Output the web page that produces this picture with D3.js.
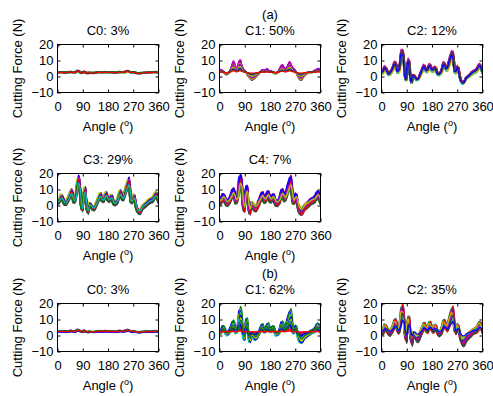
<!DOCTYPE html>
<html>
<head>
<meta charset="utf-8">
<script src="https://cdn.jsdelivr.net/npm/d3@7"></script>
<style>
  body { margin: 0; background: #fff; }
  svg { display: block; font-family: "Liberation Sans", Arial, Helvetica, sans-serif; }
</style>
</head>
<body>
<svg id="chart" width="493" height="396"></svg>
<script>
// sample angles (deg), one value every 5 degrees
const angles = d3.range(0, 361, 5);
const xTicks = [0, 90, 180, 270, 360];
const yTicks = [-10, 0, 10, 20];
const groupLabels = ['(a)', '(b)'];
const titles = ['C0: 3%', 'C1: 50%', 'C2: 12%', 'C3: 29%', 'C4: 7%', 'C0: 3%', 'C1: 62%', 'C2: 35%'];

// typical force profile
const baseForce = [
  2.3, 3.5, 5.2, 4.5, 2.5, 1.3, 2.2, 3.5, 5.5, 7.5, 7.2, 3.0,
  3.5, 8.5, 14.0, 13.5, 3.0, -2.0, 6.0, 9.5, 1.0, -3.5, 0.5, 0.0,
  -1.0, -2.0, -1.5, 0.5, 2.5, 4.5, 6.0, 4.5, 3.4, 5.0, 6.5, 5.0,
  3.8, 4.5, 5.0, 3.0, 1.3, 1.5, 2.3, 5.0, 7.5, 6.5, 4.5, 6.0,
  9.0, 11.5, 13.5, 10.0, 3.0, 3.5, 5.5, 2.0, -2.0, -3.5, -4.0, -3.0,
  -1.2, -0.5, 0.2, 1.0, 2.0, 2.5, 3.0, 3.4, 4.5, 6.0, 6.5, 4.5,
  2.3
];
// same profile on the slightly later traces (peaks near 75, 100, 255 deg)
const baseForceLate = [
  3.0, 2.3, 3.8, 5.0, 4.0, 2.2, 1.5, 2.5, 4.0, 6.0, 8.0, 6.5,
  3.0, 4.0, 9.5, 15.0, 12.5, 2.0, -2.5, 7.0, 9.0, 0.0, -4.0, 0.5,
  0.0, -1.5, -2.0, -1.0, 1.0, 3.0, 5.0, 6.0, 4.0, 3.5, 5.5, 6.5,
  4.5, 3.5, 4.8, 4.8, 2.5, 1.2, 1.8, 2.8, 5.5, 7.5, 6.0, 4.5,
  6.5, 9.5, 12.0, 14.0, 9.0, 2.5, 4.0, 5.0, 1.0, -2.5, -4.0, -4.0,
  -2.5, -1.0, -0.3, 0.5, 1.2, 2.2, 2.8, 3.2, 3.6, 5.0, 6.3, 6.0,
  3.0
];
// profile of the C1 (a) group
const baseC1 = [
  4.0, 4.5, 4.0, 3.0, 2.0, 1.5, 2.0, 3.0, 5.0, 8.0, 10.0, 8.0,
  5.0, 7.0, 10.0, 10.5, 7.0, 5.0, 4.0, 3.0, 1.0, 0.0, -1.0, -2.0,
  -1.5, -1.0, 0.0, 1.0, 2.0, 3.0, 4.0, 4.5, 4.0, 4.5, 5.0, 4.0,
  3.5, 3.5, 3.0, 2.5, 2.0, 2.5, 3.5, 5.5, 7.0, 7.5, 6.0, 5.0,
  6.0, 8.0, 9.5, 8.0, 6.0, 5.0, 4.0, 2.0, 0.0, -1.5, -2.0, -1.5,
  0.0, 1.0, 2.0, 2.5, 3.0, 3.0, 3.0, 3.5, 4.0, 4.5, 5.0, 5.0,
  4.5
];

// per-trace profile (0 = baseForce / baseC1, 1 = baseForceLate), amplitude and level
const c0aShape = [0, 1, 0, 1, 1, 0, 0, 1, 0, 1, 0, 0, 1, 1, 0, 1, 0];
const c0aGain = [0.08, 0.05, 0.1, 0.06, 0.04, 0.07, 0.05, 0.09, 0.06, 0.08, 0.05, 0.07, 0.04, 0.06, 0.09, 0.05, 0.07];
const c0aOffset = [2.4, 2.0, 2.5, 2.2, 2.6, 1.9, 2.3, 2.1, 2.7, 2.3, 2.0, 2.5, 2.2, 2.4, 2.1, 2.6, 2.2];
const c1aShape = [0, 0, 0, 0, 0, 0, 0, 0, 0, 0, 0, 0, 0, 0, 0, 0, 0, 0, 0, 0, 0, 0, 0, 0];
const c1aGain = [0.9, 0.7, 0.5, 0.85, 1.0, 0.6, 0.95, 0.75, 0.4, 0.3, 0.65, 0.9, 0.8, 0.55, 0.6, 0.45, 0.2, 0.35, 0.7, 0.5, 0.3, 0.25, 0.2, 0.12];
const c1aOffset = [0.2, 0.8, 1.2, -0.3, 0, 1, -0.5, 0.5, 1.5, 1.8, 0.6, 0.3, -0.2, 1, 0.9, 1.4, 2, 1.6, 0.4, 1.1, 1.8, 2, 2.1, 2.3];
const c2aShape = [0, 0, 1, 0, 0, 1, 0, 0, 0, 1, 0, 0, 1, 0, 0, 0, 1, 0, 0, 0, 1, 0];
const c2aGain = [1.0, 0.9, 1.1, 0.95, 1.15, 0.85, 1.05, 0.92, 1.08, 1.0, 0.88, 1.12, 0.97, 1.03, 0.9, 1.1, 0.95, 1.05, 1.0, 0.93, 1.07, 1.0];
const c2aOffset = [0.3, -0.5, 0.6, -0.2, 0.8, -0.8, 0, 0.5, -0.4, 0.2, -0.6, 0.4, -0.1, 0.7, 0.1, -0.3, 0.6, -0.7, 0.4, -0.2, 0.2, 0];
const c3Shape = [1, 0, 1, 1, 0, 1, 0, 1, 1, 0, 1, 1, 0, 1, 0, 1, 1, 0, 1, 0, 1, 1, 0, 1, 1];
const c3Gain = [1.1, 0.9, 1.2, 0.85, 1.0, 1.15, 0.95, 1.25, 0.8, 1.05, 1.2, 0.9, 1.1, 0.95, 1.0, 1.15, 0.85, 1.05, 1.2, 0.9, 1.1, 1.0, 0.95, 1.05, 0.9];
const c3Offset = [0.5, -1, 1, -0.5, 0, 1.2, -1.2, 0.3, 0.8, -0.3, -0.8, 0.6, 1.5, -1.5, 0.2, -0.6, 1, 0.4, -0.2, 0.7, -0.9, 0.9, -0.4, 0.1, 0.3];
const c4Shape = [1, 0, 1, 1, 0, 1, 1, 0, 1, 1, 0, 1, 1, 0, 1, 0, 1, 1, 0, 1];
const c4Gain = [1.2, 0.8, 1.3, 0.9, 1.1, 0.75, 1.0, 1.25, 0.85, 1.15, 0.95, 1.3, 0.7, 1.05, 1.2, 0.9, 1.1, 0.8, 1.0, 0.85];
const c4Offset = [0.5, -1.5, 1, -0.5, 1.8, 0, -2, 0.8, 1.5, -1, 0.3, -0.3, 2, -1.8, 1.2, 0.6, -0.8, 1, 0, 1.2];
const c0bShape = [1, 0, 0, 1, 0, 1, 1, 0, 0, 1, 0, 1, 0, 0, 1, 0, 1];
const c0bGain = [0.06, 0.09, 0.05, 0.07, 0.1, 0.04, 0.08, 0.06, 0.05, 0.09, 0.07, 0.04, 0.08, 0.06, 0.05, 0.07, 0.06];
const c0bOffset = [2.1, 2.5, 2.3, 1.9, 2.6, 2.2, 2.4, 2.0, 2.7, 2.2, 2.5, 2.1, 2.3, 2.6, 2.0, 2.4, 2.3];
const c1bShape = [0, 1, 0, 1, 1, 0, 1, 0, 1, 0, 0, 1, 1, 0, 1, 0, 0, 1, 0, 1, 1, 0, 1, 0];
const c1bGain = [1.1, 0.8, 0.4, 0.95, 0.6, 1.0, 0.7, 0.5, 1.2, 0.1, 0.85, 0.3, 0.65, 0.45, 0.9, 0.35, 0.06, 0.55, 0.2, 0.75, 0.3, 0.4, 0.6, 0.05];
const c1bOffset = [0.5, -1, 1.5, 0, 1, -0.5, 0.8, 1.2, 0.2, 2.4, -1.5, 1.8, 0.3, 1.4, -0.8, 1.6, 2.0, 0.9, 2, -0.2, 1.7, 1.3, 0.6, 2.3];
const c2bShape = [1, 0, 1, 1, 0, 1, 0, 1, 1, 0, 1, 0, 1, 1, 0, 1, 1, 0, 1, 0, 1, 1];
const c2bGain = [1.0, 1.2, 0.8, 1.3, 0.9, 1.1, 0.7, 1.25, 0.85, 1.05, 0.95, 1.2, 0.75, 1.15, 0.9, 1.0, 1.3, 0.8, 1.1, 0.95, 1.05, 0.5];
const c2bOffset = [0, 1, -1.5, 0.5, 1.8, -2, 0.8, -0.8, 2, -1, 1.2, -0.3, 1.5, -2.2, 0.4, -1.2, 0.2, 1, -0.6, 1.6, -1.8, 1.8];

// old matlab line colour order
const colors = ['#0000ff', '#008000', '#ff0000', '#00bfbf', '#bf00bf', '#bfbf00', '#404040'];

const panels = [
  { title: titles[0], bases: [baseForce, baseForceLate], shape: c0aShape, gain: c0aGain, offset: c0aOffset, col: 0, row: 0 },
  { title: titles[1], bases: [baseC1, baseForceLate], shape: c1aShape, gain: c1aGain, offset: c1aOffset, col: 1, row: 0 },
  { title: titles[2], bases: [baseForce, baseForceLate], shape: c2aShape, gain: c2aGain, offset: c2aOffset, col: 2, row: 0 },
  { title: titles[3], bases: [baseForce, baseForceLate], shape: c3Shape, gain: c3Gain, offset: c3Offset, col: 0, row: 1 },
  { title: titles[4], bases: [baseForce, baseForceLate], shape: c4Shape, gain: c4Gain, offset: c4Offset, col: 1, row: 1 },
  { title: titles[5], bases: [baseForce, baseForceLate], shape: c0bShape, gain: c0bGain, offset: c0bOffset, col: 0, row: 2 },
  { title: titles[6], bases: [baseForce, baseForceLate], shape: c1bShape, gain: c1bGain, offset: c1bOffset, col: 1, row: 2 },
  { title: titles[7], bases: [baseForce, baseForceLate], shape: c2bShape, gain: c2bGain, offset: c2bOffset, col: 2, row: 2 }
];

const W = 101, H = 48;
const colX = [57, 219, 381];
const rowY = [44, 173, 303];

const svg = d3.select('#chart');

const x = d3.scaleLinear().domain([0, 360]).range([0, W]);
const y = d3.scaleLinear().domain([-10, 20]).range([H, 0]);

const line = d3.line()
  .x((d, i) => x(angles[i]))
  .y(d => y(d))
  .curve(d3.curveCatmullRom);

function fixAxis(g) {
  g.attr('font-size', 13).attr('font-family', null);
  g.select('.domain').remove();
  g.selectAll('text').attr('fill', '#000');
}

panels.forEach((p, k) => {
  const g = svg.append('g')
    .attr('transform', 'translate(' + (colX[p.col] + 0.5) + ',' + (rowY[p.row] + 0.5) + ')');

  g.append('clipPath').attr('id', 'clip' + k)
    .append('rect').attr('width', W).attr('height', H);

  const traces = p.gain.map((gn, i) => p.bases[p.shape[i]].map(v => p.offset[i] + gn * v));

  g.append('g')
    .attr('clip-path', 'url(#clip' + k + ')')
    .selectAll('path')
    .data(traces)
    .join('path')
    .attr('fill', 'none')
    .attr('stroke', (d, i) => colors[i % colors.length])
    .attr('stroke-width', 1.2)
    .attr('stroke-linejoin', 'round')
    .attr('d', line);

  // matlab style inward ticks on every side
  g.append('g').attr('transform', 'translate(0,' + H + ')')
    .call(d3.axisBottom(x).tickValues(xTicks).tickSizeInner(-3).tickSizeOuter(0).tickPadding(9))
    .call(fixAxis);
  g.append('g')
    .call(d3.axisTop(x).tickValues(xTicks).tickSizeInner(-3).tickSizeOuter(0).tickFormat(''))
    .call(fixAxis);
  g.append('g')
    .call(d3.axisLeft(y).tickValues(yTicks).tickSizeInner(-3).tickSizeOuter(0).tickPadding(4))
    .call(fixAxis);
  g.append('g').attr('transform', 'translate(' + W + ',0)')
    .call(d3.axisRight(y).tickValues(yTicks).tickSizeInner(-3).tickSizeOuter(0).tickFormat(''))
    .call(fixAxis);

  g.append('rect')
    .attr('width', W).attr('height', H)
    .attr('fill', 'none').attr('stroke', '#000').attr('stroke-width', 1);

  g.append('text')
    .attr('x', W / 2).attr('y', -10)
    .attr('text-anchor', 'middle').attr('font-size', 13)
    .text(p.title);

  const xl = g.append('text')
    .attr('x', W / 2).attr('y', H + 38.5)
    .attr('text-anchor', 'middle').attr('font-size', 13);
  xl.append('tspan').text('Angle (');
  xl.append('tspan').attr('font-size', 9).attr('dy', -5).text('o');
  xl.append('tspan').attr('dy', 5).text(')');

  g.append('text')
    .attr('transform', 'translate(-36,' + (H / 2) + ') rotate(-90)')
    .attr('text-anchor', 'middle').attr('font-size', 13)
    .text('Cutting Force (N)');

  if (p.col === 1 && p.row === 0) {
    g.append('text').attr('x', W / 2).attr('y', -26)
      .attr('text-anchor', 'middle').attr('font-size', 13).text(groupLabels[0]);
  }
  if (p.col === 1 && p.row === 2) {
    g.append('text').attr('x', W / 2).attr('y', -26)
      .attr('text-anchor', 'middle').attr('font-size', 13).text(groupLabels[1]);
  }
});
</script>
</body>
</html>
